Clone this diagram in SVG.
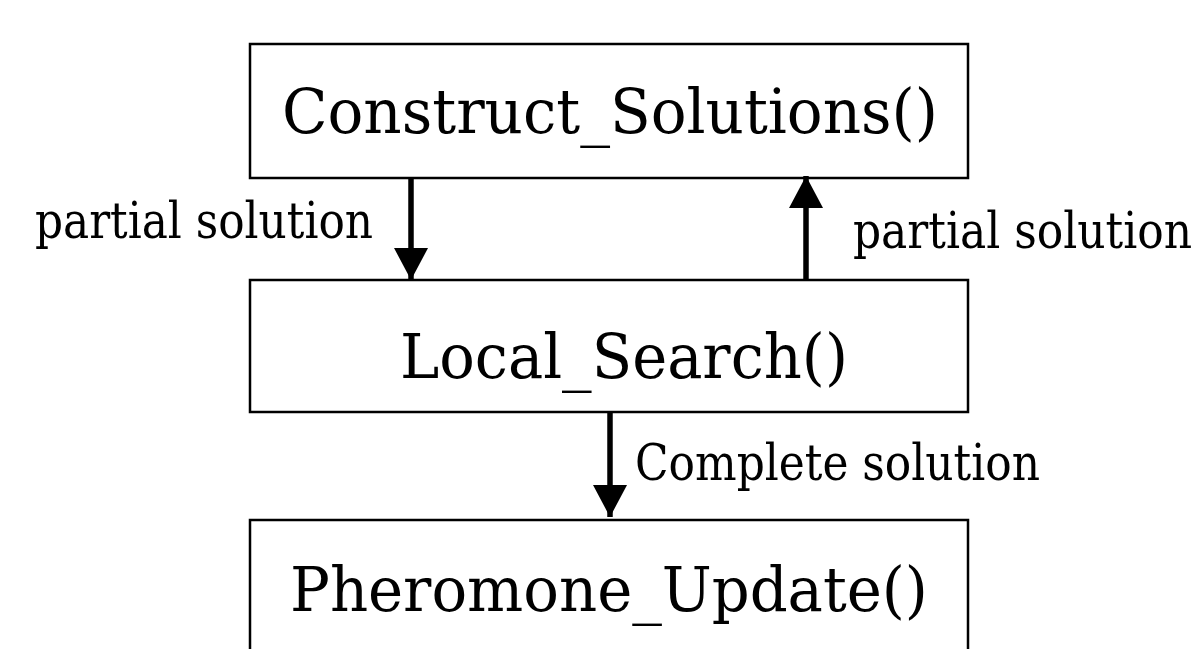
<svg xmlns="http://www.w3.org/2000/svg" width="1202" height="649" viewBox="0 0 1202 649">
<style>
.box{fill:#fff;stroke:#000;stroke-width:2.5}
.big{font-family:"DejaVu Serif","Liberation Serif",serif;font-stretch:condensed;font-size:62px;fill:#000}
.lbl{font-family:"DejaVu Serif","Liberation Serif",serif;font-stretch:condensed;font-size:51px;fill:#000}
.conn{stroke:#000;stroke-width:5.5;fill:none}
</style>
<defs>
<marker id="ah" markerUnits="userSpaceOnUse" markerWidth="34" markerHeight="34" refX="32" refY="17" orient="auto" viewBox="0 0 34 34">
<path d="M0,0 L32,17 L0,34 Z" fill="#000"/>
</marker>
</defs>
<rect width="1202" height="649" fill="#fff"/>
<g id="n1"><rect class="box" x="250" y="44" width="718" height="134"/><text class="big" x="282" y="133" textLength="656" lengthAdjust="spacingAndGlyphs">Construct_Solutions()</text></g>
<g id="n2"><rect class="box" x="250" y="280" width="718" height="132"/><text class="big" x="400" y="378" textLength="448" lengthAdjust="spacingAndGlyphs">Local_Search()</text></g>
<g id="n3"><rect class="box" x="250" y="520" width="718" height="140"/><text class="big" x="290" y="611" textLength="638" lengthAdjust="spacingAndGlyphs">Pheromone_Update()</text></g>
<g id="connectors">
<line class="conn" x1="411" y1="178" x2="411" y2="280" marker-end="url(#ah)"/>
<line class="conn" x1="806" y1="280" x2="806" y2="176" marker-end="url(#ah)"/>
<line class="conn" x1="610" y1="412" x2="610" y2="517" marker-end="url(#ah)"/>
<text class="lbl" x="35" y="238" textLength="338" lengthAdjust="spacingAndGlyphs">partial solution</text>
<text class="lbl" x="853" y="248" textLength="339" lengthAdjust="spacingAndGlyphs">partial solution</text>
<text class="lbl" x="635" y="480" textLength="405" lengthAdjust="spacingAndGlyphs">Complete solution</text>
</g>
</svg>
